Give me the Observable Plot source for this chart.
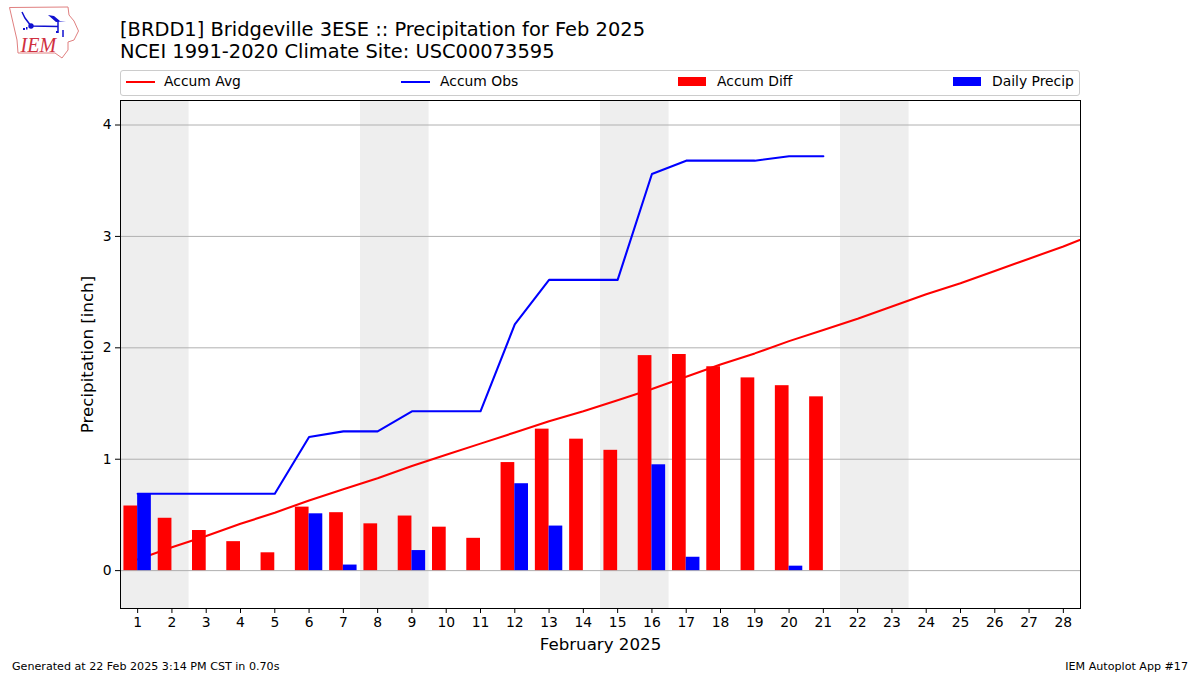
<!DOCTYPE html>
<html><head><meta charset="utf-8">
<script src="https://cdn.jsdelivr.net/npm/d3@7"></script>
<script src="https://cdn.jsdelivr.net/npm/@observablehq/plot@0.6"></script>
<style>
html,body{margin:0;padding:0;background:#fff;font-family:"DejaVu Sans",sans-serif;color:#000}
#page{position:relative;width:1200px;height:675px;overflow:hidden}
#chart{position:absolute;left:0;top:0}
.t{position:absolute;white-space:nowrap}
#title{left:120px;top:19px;font-size:19.44px;line-height:22.4px}
#legend{position:absolute;left:120px;top:70px;width:958px;height:24px;border:1px solid #ccc;border-radius:3px}
.lab{font-size:13.89px;top:73px}
.ll{position:absolute;top:80.500px;width:29px;height:2px}
.lb{position:absolute;top:77px;width:28px;height:9px}
.foot{font-size:11.11px;top:660px}
#logo{position:absolute;left:0;top:0}
</style></head><body>
<div id="page">
<div id="chart"></div>
<svg id="logo" width="90" height="62" viewBox="0 0 90 62">
<path d="M9.500 7.500L68 7L69 15L74 21L78.500 31L74 40L68 42L68 50L62 58L55 53L18 53L17 40L14 27Z" fill="#fff" stroke="#e08080" stroke-width="1"/>
<path d="M31 26L58 26.500M58 20L58 33M22 12L25 18L31 26M63 30L63 37" stroke="#1010d0" stroke-width="1.500" fill="none"/>
<circle cx="31" cy="26" r="2.700" fill="#1010d0"/>
<path d="M48 15L54 16L60 21L66 21L56 22Z" fill="#1010d0"/>
<path d="M23 28l2 0 0 2-2 0z M26 27l1.500 0 0 2.500-1.500 0z M56 31l2 0 0 2-2 0z" fill="#1010d0"/>
<text x="20.500" y="52" font-family="Liberation Serif" font-style="italic" font-size="20" fill="#d03040">IEM</text>
</svg>
<div class="t" id="title">[BRDD1] Bridgeville 3ESE :: Precipitation for Feb 2025<br>NCEI 1991-2020 Climate Site: USC00073595</div>
<div id="legend"></div>
<div class="ll" style="left:126px;background:#f00"></div><div class="t lab" style="left:164px">Accum Avg</div>
<div class="ll" style="left:401px;background:#00f"></div><div class="t lab" style="left:440px">Accum Obs</div>
<div class="lb" style="left:678px;background:#f00"></div><div class="t lab" style="left:717px">Accum Diff</div>
<div class="lb" style="left:953px;background:#00f"></div><div class="t lab" style="left:992px">Daily Precip</div>
<div class="t foot" style="left:12px">Generated at 22 Feb 2025 3:14 PM CST in 0.70s</div>
<div class="t foot" style="right:12px">IEM Autoplot App #17</div>
</div>
<script>
const avgDays = d3.range(1, 30);
const accumAvg = [0.10,0.21,0.31,0.42,0.52,0.63,0.73,0.83,0.94,1.04,1.14,1.24,1.34,1.43,1.53,1.63,1.74,1.85,1.95,2.06,2.16,2.26,2.37,2.48,2.58,2.69,2.80,2.91,3.03];
const obsDays = d3.range(1, 22);
const accumObs = [0.69,0.69,0.69,0.69,0.69,1.20,1.25,1.25,1.43,1.43,1.43,2.21,2.61,2.61,2.61,3.56,3.68,3.68,3.68,3.72,3.72];
const accumDiff = [0.58,0.47,0.36,0.26,0.16,0.57,0.52,0.42,0.49,0.39,0.29,0.97,1.27,1.18,1.08,1.93,1.94,1.83,1.73,1.66,1.56];
const precipDays = [1,6,7,9,12,13,16,17,20];
const dailyPrecip = [0.69,0.51,0.05,0.18,0.78,0.40,0.95,0.12,0.04];
const weekendStarts = [0.5,7.5,14.5,21.5];
const dayTicks = d3.range(1, 29);
const barW = 0.4;

const plot = Plot.plot({
  width: 1200, height: 675,
  marginTop: 100, marginBottom: 67, marginLeft: 120, marginRight: 120,
  style: {fontFamily: '"DejaVu Sans"', fontSize: "13.89px", color: "#000", background: "transparent"},
  x: {type: "linear", domain: [0.5, 28.5]},
  y: {type: "linear", domain: [-0.34, 4.22]},
  marks: [
    Plot.rect(weekendStarts, {x1: d => d, x2: d => d + 2, y1: -0.34, y2: 4.22, fill: "#eeeeee"}),
    Plot.gridY([0,1,2,3,4], {stroke: "#b0b0b0", strokeOpacity: 1, strokeWidth: 1}),
    Plot.line(avgDays, {x: d => d, y: (d, i) => accumAvg[i], stroke: "#f00", strokeWidth: 2.08, clip: true, curve: "linear"}),
    Plot.line(obsDays, {x: d => d, y: (d, i) => accumObs[i], stroke: "#00f", strokeWidth: 2.08, curve: "linear"}),
    Plot.rect(obsDays, {x1: d => d - barW, x2: d => d, y1: 0, y2: (d, i) => accumDiff[i], fill: "#f00"}),
    Plot.rect(precipDays, {x1: d => d, x2: d => d + barW, y1: 0, y2: (d, i) => dailyPrecip[i], fill: "#00f"}),
    Plot.axisX(dayTicks, {tickSize: 5, tickPadding: 4, tickFormat: d => String(d), label: "February 2025", labelAnchor: "center", labelArrow: "none", labelOffset: 41, fontSize: 13.89}),
    Plot.axisY([0,1,2,3,4], {tickSize: 5, tickPadding: 4, tickFormat: d => String(d), label: "Precipitation [inch]", labelAnchor: "center", labelArrow: "none", labelOffset: 39, fontSize: 13.89}),
    Plot.frame({stroke: "#000", strokeWidth: 1})
  ]
});
document.getElementById("chart").appendChild(plot);
d3.select(plot).selectAll('[aria-label="x-axis label"] text, [aria-label="y-axis label"] text, [aria-label="x-axis label"], [aria-label="y-axis label"]').attr("font-size", 16.67).style("font-size","16.67px");
</script>
</body></html>
